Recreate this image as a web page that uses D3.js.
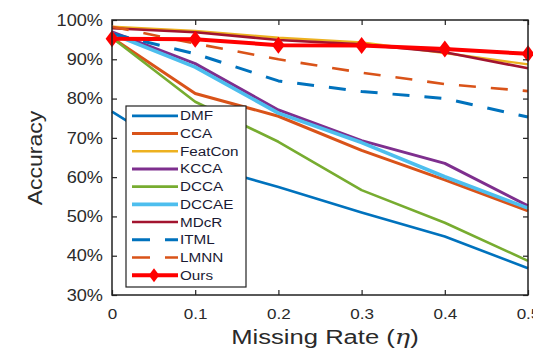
<!DOCTYPE html>
<html>
<head>
<meta charset="utf-8">
<script src="https://cdn.jsdelivr.net/npm/d3@7"></script>
<style>
  body { margin: 0; background: #fff; }
  text { font-family: "Liberation Sans", Arial, sans-serif; }
</style>
</head>
<body>
<div id="chart"></div>
<script>

// missing rates on the x axis
var rates = [0, 0.1, 0.2, 0.3, 0.4, 0.5];

// accuracy (%)
var dmf     = [76.7, 63.5, 57.5, 51.0, 44.9, 36.8];
var cca     = [95.5, 81.3, 75.5, 66.8, 59.3, 51.4];
var featcon = [98.3, 97.2, 95.5, 94.3, 91.6, 88.7];
var kcca    = [97.0, 88.9, 77.1, 69.3, 63.5, 52.7];
var dcca    = [95.5, 79.2, 69.0, 56.7, 48.4, 38.7];
var dccae   = [96.5, 88.0, 76.3, 68.8, 60.1, 52.1];
var mdcr    = [97.9, 96.9, 94.9, 93.8, 91.8, 87.7];
var itml    = [96.5, 91.4, 84.5, 81.8, 80.0, 75.3];
var lmnn    = [98.3, 94.0, 90.0, 86.6, 83.7, 81.9];
var ours    = [95.2, 95.1, 93.6, 93.5, 92.6, 91.4];

var names = ["DMF", "CCA", "FeatCon", "KCCA", "DCCA", "DCCAE", "MDcR", "ITML", "LMNN", "Ours"];
var series = [dmf, cca, featcon, kcca, dcca, dccae, mdcr, itml, lmnn, ours];

var yTicks = [30, 40, 50, 60, 70, 80, 90, 100];
var xTicks = [0, 0.1, 0.2, 0.3, 0.4, 0.5];

// look of each line
var styles = {
    "DMF":     {color: "#0072BD", width: 2.6},
    "CCA":     {color: "#D95319", width: 3},
    "FeatCon": {color: "#EDB120", width: 2.4},
    "KCCA":    {color: "#7E2F8E", width: 3},
    "DCCA":    {color: "#77AC30", width: 2.6},
    "DCCAE":   {color: "#4DBEEE", width: 3.6},
    "MDcR":    {color: "#A2142F", width: 2.6},
    "ITML":    {color: "#0072BD", width: 3, dash: "17,15"},
    "LMNN":    {color: "#D95319", width: 2.6, dash: "17,15"},
    "Ours":    {color: "#FF0000", width: 4, marker: true}
};

var W = 533, H = 351;
var margin = {top: 20, right: 5, bottom: 56, left: 112};

var svg = d3.select("#chart").append("svg")
    .attr("width", W)
    .attr("height", H);

var x = d3.scaleLinear().domain([0, 0.5]).range([margin.left, W - margin.right]);
var y = d3.scaleLinear().domain([30, 100]).range([H - margin.bottom, margin.top]);

// stretch text a bit, the figure uses a wide face
function widen(sel, k) {
    sel.each(function() {
        var w = this.getComputedTextLength();
        d3.select(this).attr("textLength", w * k).attr("lengthAdjust", "spacingAndGlyphs");
    });
}

// diamond marker, a little taller than wide
var diamond = {
    draw: function(ctx, size) {
        var h = size / 2, w = h * 0.75;
        ctx.moveTo(0, -h);
        ctx.lineTo(w, 0);
        ctx.lineTo(0, h);
        ctx.lineTo(-w, 0);
        ctx.closePath();
    }
};

// lines
var line = d3.line()
    .x(function(d, i) { return x(rates[i]); })
    .y(function(d) { return y(d); });

var plot = svg.append("g");
series.forEach(function(vals, k) {
    var st = styles[names[k]];
    plot.append("path")
        .datum(vals)
        .attr("d", line)
        .attr("fill", "none")
        .attr("stroke", st.color)
        .attr("stroke-width", st.width)
        .attr("stroke-dasharray", st.dash || null)
        .attr("stroke-linejoin", "round");
    if (st.marker) {
        plot.selectAll(".mk")
            .data(vals)
            .enter().append("path")
            .attr("d", d3.symbol(diamond, 17))
            .attr("transform", function(d, i) {
                return "translate(" + x(rates[i]) + "," + y(d) + ")";
            })
            .attr("fill", st.color);
    }
});

// axes, MATLAB style box with inward ticks
var xAxis = svg.append("g")
    .attr("transform", "translate(0," + y(30) + ")")
    .call(d3.axisBottom(x).tickValues(xTicks).tickSizeInner(-5).tickSizeOuter(0).tickPadding(13)
        .tickFormat(function(d) { return d === 0 ? "0" : d3.format(".1f")(d); }));
var yAxis = svg.append("g")
    .attr("transform", "translate(" + x(0) + ",0)")
    .call(d3.axisLeft(y).tickValues(yTicks).tickSizeInner(-5).tickSizeOuter(0).tickPadding(9)
        .tickFormat(function(d) { return d + "%"; }));
svg.append("g")
    .attr("transform", "translate(0," + y(100) + ")")
    .call(d3.axisTop(x).tickValues(xTicks).tickSizeInner(-5).tickSizeOuter(0).tickFormat(""));
svg.append("g")
    .attr("transform", "translate(" + x(0.5) + ",0)")
    .call(d3.axisRight(y).tickValues(yTicks).tickSizeInner(-5).tickSizeOuter(0).tickFormat(""));

svg.selectAll(".domain").remove();
svg.selectAll(".tick line").attr("stroke", "#222").attr("stroke-width", 1.2);
svg.append("rect")
    .attr("x", x(0)).attr("y", y(100))
    .attr("width", x(0.5) - x(0)).attr("height", y(30) - y(100))
    .attr("fill", "none").attr("stroke", "#222").attr("stroke-width", 1.5);

xAxis.selectAll("text").attr("font-size", 15.5).attr("fill", "#2a2a2a").call(widen, 1.1);
yAxis.selectAll("text").attr("font-size", 16.5).attr("fill", "#2a2a2a").call(widen, 1.1);

// axis titles
var xt = svg.append("text")
    .attr("x", 325).attr("y", 344)
    .attr("text-anchor", "middle")
    .attr("font-size", 20)
    .attr("fill", "#2a2a2a");
xt.append("tspan").text("Missing Rate (");
xt.append("tspan").attr("font-style", "italic").attr("font-family", "'DejaVu Serif', serif").text("η");
xt.append("tspan").text(")");
xt.call(widen, 1.28);

svg.append("text")
    .attr("transform", "translate(42,158) rotate(-90)")
    .attr("text-anchor", "middle")
    .attr("font-size", 20)
    .attr("fill", "#2a2a2a")
    .text("Accuracy")
    .call(widen, 1.15);

// legend
var lg = svg.append("g").attr("transform", "translate(126,106)");
lg.append("rect")
    .attr("width", 120).attr("height", 181)
    .attr("fill", "#fff").attr("stroke", "#222").attr("stroke-width", 1.2);

var row = d3.scaleBand().domain(names).range([1, 178]);
names.forEach(function(n) {
    var st = styles[n];
    var cy = row(n) + row.bandwidth() / 2;
    lg.append("line")
        .attr("x1", 6).attr("x2", 52)
        .attr("y1", cy).attr("y2", cy)
        .attr("stroke", st.color)
        .attr("stroke-width", st.width)
        .attr("stroke-dasharray", st.dash ? "18,15" : null);
    if (st.marker) {
        lg.append("path")
            .attr("d", d3.symbol(diamond, 14))
            .attr("transform", "translate(28," + cy + ")")
            .attr("fill", st.color);
    }
    lg.append("text")
        .attr("x", 54).attr("y", cy)
        .attr("dy", "0.36em")
        .attr("font-size", 12.5)
        .attr("fill", "#1a1a33")
        .text(n)
        .call(widen, 1.22);
});

</script>
</body>
</html>
